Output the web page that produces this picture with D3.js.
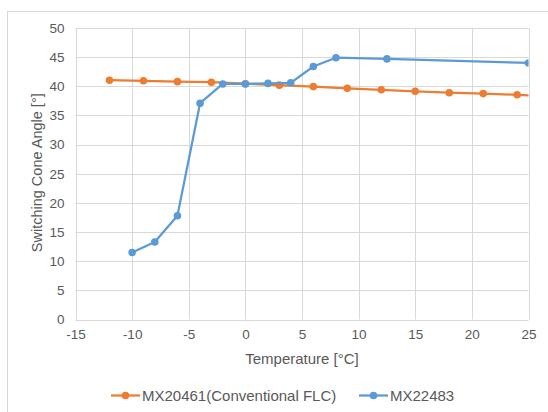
<!DOCTYPE html>
<html>
<head>
<meta charset="utf-8">
<script src="https://cdn.jsdelivr.net/npm/d3@7"></script>
<style>
  html, body { margin: 0; padding: 0; background: #ffffff; }
  svg { display: block; }
  text { font-family: "Liberation Sans", Arial, sans-serif; fill: #595959; }
</style>
</head>
<body>
<svg id="chart" width="548" height="412"></svg>
<script>
// Switching cone angle vs temperature for two FLC mixtures
const conventionalTemps = [-12, -9, -6, -3, 0, 3, 6, 9, 12, 15, 18, 21, 24, 27];
const conventionalAngles = [41.05, 40.95, 40.8, 40.7, 40.45, 40.2, 39.95, 39.65, 39.4, 39.15, 38.9, 38.75, 38.55, 38.2];
const mx22483Temps = [-10, -8, -6, -4, -2, 0, 2, 4, 6, 8, 12.5, 25];
const mx22483Angles = [11.5, 13.3, 17.8, 37.1, 40.4, 40.4, 40.5, 40.6, 43.4, 44.9, 44.7, 44.0];
const xTicks = [-15, -10, -5, 0, 5, 10, 15, 20, 25];
const yTicks = [0, 5, 10, 15, 20, 25, 30, 35, 40, 45, 50];
const seriesNames = ["MX20461(Conventional FLC)", "MX22483"];
const seriesColors = ["#ED7D31", "#5B9BD5"];

const svg = d3.select("#chart");
const fmt = d => String(d); // plain hyphen for negatives

// outer chart frame
svg.append("rect")
  .attr("x", 7.5).attr("y", 11.5)
  .attr("width", 560).attr("height", 420)
  .attr("fill", "#ffffff").attr("stroke", "#d9d9d9").attr("stroke-width", 1);

const plot = { left: 75.5, right: 528.5, top: 28, bottom: 319.5 };

const x = d3.scaleLinear().domain([-15, 25]).range([plot.left, plot.right]);
const y = d3.scaleLinear().domain([0, 50]).range([plot.bottom, plot.top]);

// gridlines
const grid = svg.append("g");
grid.selectAll("line.h").data(yTicks).join("line")
  .attr("x1", plot.left).attr("x2", plot.right)
  .attr("y1", d => Math.round(y(d)) + 0.5).attr("y2", d => Math.round(y(d)) + 0.5)
  .attr("stroke", "#d9d9d9").attr("stroke-width", 1);
grid.selectAll("line.v").data(xTicks).join("line")
  .attr("y1", plot.top).attr("y2", plot.bottom)
  .attr("x1", d => Math.round(x(d)) + 0.5).attr("x2", d => Math.round(x(d)) + 0.5)
  .attr("stroke", "#d9d9d9").attr("stroke-width", 1);

// axes (labels only; the gridlines form the frame)
const xAxis = svg.append("g")
  .attr("transform", `translate(0,${plot.bottom})`)
  .call(d3.axisBottom(x).tickValues(xTicks).tickSize(0).tickPadding(10).tickFormat(fmt));
const yAxis = svg.append("g")
  .attr("transform", `translate(${plot.left},0)`)
  .call(d3.axisLeft(y).tickValues(yTicks).tickSize(0).tickPadding(11).tickFormat(fmt));
[xAxis, yAxis].forEach(g => {
  g.select(".domain").remove();
  g.selectAll("text").style("font-size", "13.5px").attr("fill", "#595959")
    .style("font-family", '"Liberation Sans", Arial, sans-serif');
});

// axis titles
svg.append("text")
  .attr("x", (plot.left + plot.right) / 2).attr("y", 364)
  .attr("text-anchor", "middle").style("font-size", "15px")
  .text("Temperature [°C]");
svg.append("text")
  .attr("transform", `translate(42,${(plot.top + plot.bottom) / 2 - 1}) rotate(-90)`)
  .attr("text-anchor", "middle").style("font-size", "14.5px")
  .text("Switching Cone Angle [°]");

// clip series to the plot area
svg.append("clipPath").attr("id", "plotClip")
  .append("rect")
  .attr("x", plot.left).attr("y", plot.top - 6)
  .attr("width", plot.right - plot.left).attr("height", plot.bottom - plot.top + 12);

const series = [
  { xs: conventionalTemps, ys: conventionalAngles, color: seriesColors[0] },
  { xs: mx22483Temps, ys: mx22483Angles, color: seriesColors[1] }
];

const line = d3.line().x(d => x(d[0])).y(d => y(d[1]));
const layer = svg.append("g").attr("clip-path", "url(#plotClip)");

series.forEach(s => {
  const pts = s.xs.map((v, i) => [v, s.ys[i]]);
  layer.append("path").datum(pts)
    .attr("d", line).attr("fill", "none")
    .attr("stroke", s.color).attr("stroke-width", 2.25)
    .attr("stroke-linejoin", "round");
  layer.selectAll(null).data(pts.filter(p => p[0] <= 25)).join("circle")
    .attr("cx", p => x(p[0])).attr("cy", p => y(p[1]))
    .attr("r", 3.8).attr("fill", s.color);
});

// legend
const legendY = 395.5;
const legendItems = [
  { name: seriesNames[0], color: seriesColors[0], x0: 111 },
  { name: seriesNames[1], color: seriesColors[1], x0: 359 }
];
const lg = svg.append("g");
legendItems.forEach(it => {
  lg.append("line")
    .attr("x1", it.x0).attr("x2", it.x0 + 29)
    .attr("y1", legendY).attr("y2", legendY)
    .attr("stroke", it.color).attr("stroke-width", 2.25);
  lg.append("circle")
    .attr("cx", it.x0 + 14.5).attr("cy", legendY).attr("r", 3.8).attr("fill", it.color);
  lg.append("text")
    .attr("x", it.x0 + 31).attr("y", legendY + 5.5)
    .style("font-size", "15px")
    .text(it.name);
});
</script>
</body>
</html>
